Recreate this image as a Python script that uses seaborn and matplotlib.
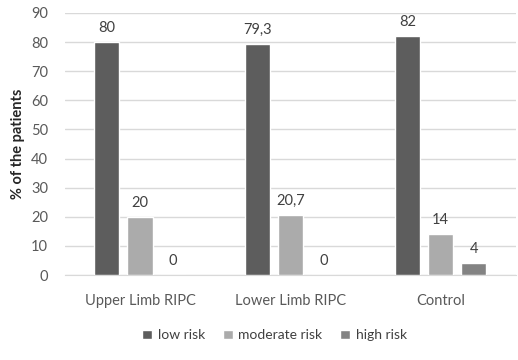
import pandas as pd
import numpy as np
import seaborn as sns
import matplotlib.pyplot as plt

# Values
groups = ["Upper Limb RIPC", "Lower Limb RIPC", "Control"]
risk_levels = ["low risk", "moderate risk", "high risk"]
low_risk = [80, 79.3, 82]
moderate_risk = [20, 20.7, 14]
high_risk = [0, 0, 4]

df = pd.DataFrame({
    "group": groups * 3,
    "risk": [risk_levels[0]] * 3 + [risk_levels[1]] * 3 + [risk_levels[2]] * 3,
    "value": low_risk + moderate_risk + high_risk,
})

sns.set_style("white")
plt.rcParams['font.family'] = ['Lato', 'DejaVu Sans']

fig = plt.figure(figsize=(5.18, 3.6), dpi=100)
ax = fig.add_axes([0.125, 0.236, 0.871, 0.728])

palette = ["#5d5d5d", "#ababab", "#838383"]
sns.barplot(data=df, x="group", y="value", hue="risk", order=groups,
            hue_order=risk_levels, palette=palette, width=0.66, gap=0.24,
            saturation=1, errorbar=None, ax=ax, zorder=3)

# Value labels with decimal commas
for cont in ax.containers:
    labels = [("%g" % b.get_height()).replace(".", ",") for b in cont]
    ax.bar_label(cont, labels=labels, padding=5, fontsize=10.5, color="#404040")

ax.set_ylim(0, 90)
ax.set_yticks(np.arange(0, 91, 10))
ax.set_xlim(-0.5, 2.5)
ax.yaxis.grid(True, color="#d9d9d9", linewidth=1)
ax.set_axisbelow(True)
for s in ["top", "right", "left"]:
    ax.spines[s].set_visible(False)
ax.spines["bottom"].set_color("#d9d9d9")
ax.tick_params(axis="both", length=0, labelsize=10.5, labelcolor="#595959")
ax.tick_params(axis="y", pad=12)
ax.tick_params(axis="x", pad=14)
ax.set_xlabel("")
ax.set_ylabel("% of the patients", fontsize=10.5, fontweight="bold", color="#262626")

leg = ax.legend(loc="upper center", bbox_to_anchor=(0.465, -0.16), ncol=3,
                frameon=False, fontsize=10, handlelength=0.7, handleheight=0.7,
                handletextpad=0.4, columnspacing=1.3)
for t in leg.get_texts():
    t.set_color("#404040")

fig.savefig("out.png", dpi=100)
